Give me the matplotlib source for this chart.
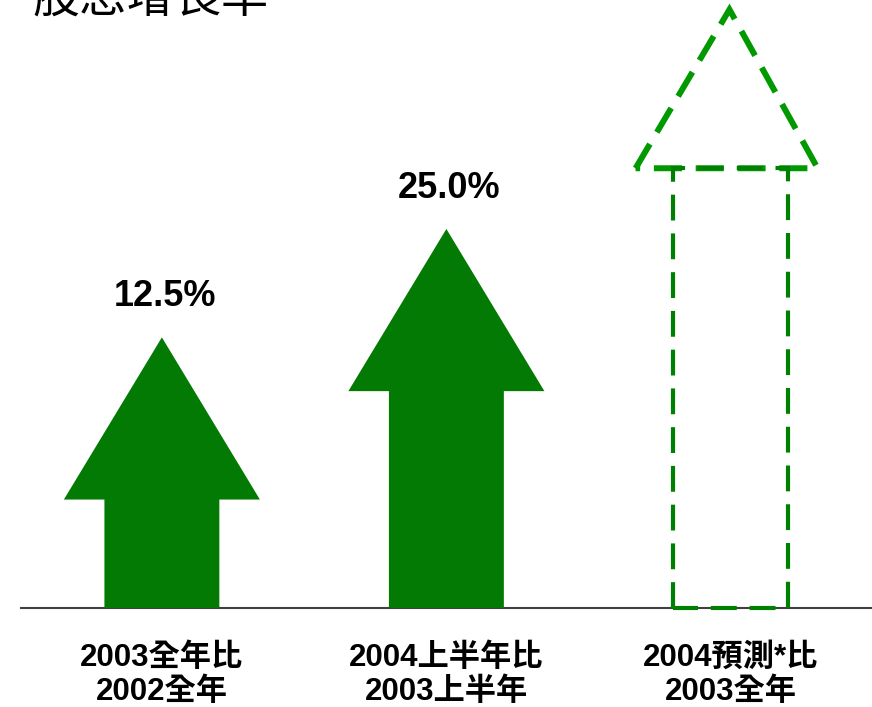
import numpy as np
import matplotlib.pyplot as plt
from matplotlib.patches import Polygon

plt.rcParams['font.family'] = ['Liberation Sans', 'Noto Sans CJK TC']

title = "股息增長率"
categories = ["2003全年比\n2002全年", "2004上半年比\n2003上半年", "2004預測*比\n2003全年"]
growth = [12.5, 25.0, 50.7]          # last one is the forecast (drawn dashed, no label)
value_labels = ["12.5%", "25.0%", None]

solid_green = "#037a03"
dash_green = "#009900"
rect_green = "#008000"

shaft_w = 0.404
head_w = 0.689
head_h = 18.7

fig = plt.figure(figsize=(8.72, 7.07), dpi=100)
ax = fig.add_axes([0, 0, 1, 1])
ax.set_xlim(-0.569, 2.496)
ax.set_ylim(-11.42, 70.1)
ax.axis('off')

# baseline
ax.plot([-0.496, 2.496], [0, 0], color='#404040', linewidth=1.5, zorder=1)

for i, v in enumerate(growth):
    x = i
    if value_labels[i] is not None:
        pts = [(x - shaft_w / 2, 0), (x - shaft_w / 2, v), (x - head_w / 2, v),
               (x, v + head_h), (x + head_w / 2, v), (x + shaft_w / 2, v),
               (x + shaft_w / 2, 0)]
        ax.add_patch(Polygon(pts, closed=True, facecolor=solid_green,
                             edgecolor='none', zorder=2))
        ax.text(x + 0.01, v + head_h + 3.6, value_labels[i], ha='center',
                va='baseline', fontsize=26, fontweight='bold', color='black')
    else:
        # forecast: dashed outline arrow
        tri_w = 0.64
        tri = [(x - 0.015 - tri_w / 2, v), (x - 0.005, v + 18.3), (x - 0.015 + tri_w / 2, v)]
        ax.add_patch(Polygon(tri, closed=True, fill=False, edgecolor=dash_green,
                             linewidth=4.3, linestyle=(0, (4.7, 2.3)), zorder=3))
        rect = [(x - shaft_w / 2, 0), (x - shaft_w / 2, v), (x + shaft_w / 2, v),
                (x + shaft_w / 2, 0)]
        ax.add_patch(Polygon(rect, closed=True, fill=False, edgecolor=rect_green,
                             linewidth=3, linestyle=(0, (6.2, 3.1)), zorder=3))

    ax.text(x, -10.61, categories[i], ha='center', va='baseline',
            multialignment='center', fontsize=22.5, fontweight='bold',
            color='black', linespacing=1.17)

fig.text(32 / 872, 1 - 13 / 707, title, ha='left', va='baseline', fontsize=34,
         family=['Noto Sans CJK TC', 'DejaVu Sans'], color='black')

fig.savefig('out.png', dpi=100, facecolor='white')
